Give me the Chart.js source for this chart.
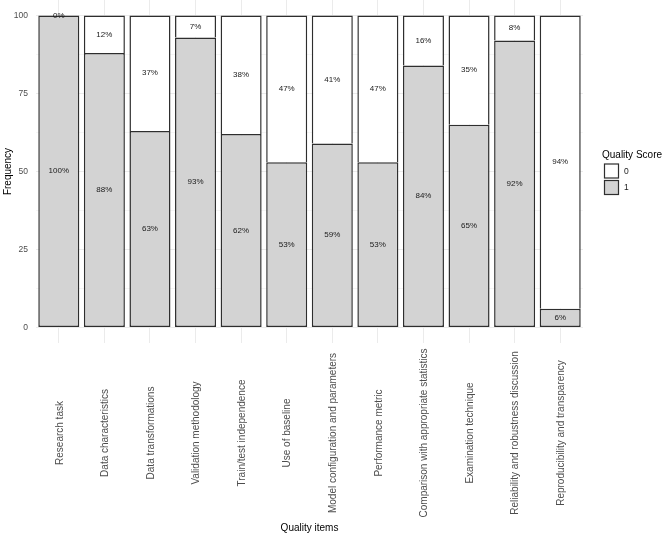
<!DOCTYPE html>
<html>
<head>
<meta charset="utf-8">
<script src="https://cdn.jsdelivr.net/npm/chart.js@4"></script>
<style>
  html, body { margin: 0; padding: 0; background: #ffffff; }
  #wrap { width: 666px; height: 535px; }
</style>
</head>
<body>
<div id="wrap"><canvas id="c" width="666" height="535"></canvas></div>
<script>
const categories = [
  "Research task",
  "Data characteristics",
  "Data transformations",
  "Validation methodology",
  "Train/test independence",
  "Use of baseline",
  "Model configuration and parameters",
  "Performance metric",
  "Comparison with appropriate statistics",
  "Examination technique",
  "Reliability and robustness discussion",
  "Reproducibility and transparency"
];
const score1 = [100, 88, 63, 93, 62, 53, 59, 53, 84, 65, 92, 6];
const score0 = [0, 12, 37, 7, 38, 47, 41, 47, 16, 35, 8, 94];
const yTickLabels = [0, 25, 50, 75, 100];
const seriesNames = ["1", "0"];
const seriesColors = ["#d3d3d3", "#ffffff"];

const FONT = "'Liberation Sans', Arial, Helvetica, sans-serif";
const EDGE = "#2e2e2e";
const BW = 1.5;

const dataLabelPlugin = {
  id: 'dataLabels',
  afterDatasetsDraw(chart) {
    const ctx = chart.ctx;
    ctx.save();
    ctx.font = "8px " + FONT;
    ctx.fillStyle = "#1a1a1a";
    ctx.textAlign = "center";
    ctx.textBaseline = "middle";
    chart.data.datasets.forEach((ds, di) => {
      const meta = chart.getDatasetMeta(di);
      meta.data.forEach((bar, i) => {
        const v = ds.data[i];
        const y = (bar.y + bar.base) / 2;
        ctx.fillText(v + "%", bar.x, y);
      });
    });
    ctx.restore();
  }
};

const xLabelPlugin = {
  id: 'xLabels',
  afterDraw(chart) {
    const ctx = chart.ctx;
    const xs = chart.scales.x;
    ctx.save();
    ctx.font = "10px " + FONT;
    ctx.fillStyle = "#4d4d4d";
    ctx.textAlign = "center";
    ctx.textBaseline = "middle";
    chart.data.labels.forEach((lab, i) => {
      const px = xs.getPixelForValue(i);
      ctx.save();
      ctx.translate(px + 1, 433);
      ctx.rotate(-Math.PI / 2);
      ctx.fillText(lab, 0, 0);
      ctx.restore();
    });
    ctx.restore();
  }
};

const legendPlugin = {
  id: 'customLegend',
  afterDraw(chart) {
    const ctx = chart.ctx;
    const area = chart.chartArea;
    const x0 = area.right + 20;
    const cy = (area.top + area.bottom) / 2;
    ctx.save();
    ctx.font = "10px " + FONT;
    ctx.fillStyle = "#000000";
    ctx.textAlign = "left";
    ctx.textBaseline = "alphabetic";
    ctx.fillText("Quality Score", x0 - 1, cy - 14);
    const items = chart.data.datasets.map((ds, i) => ({label: ds.label, color: ds.backgroundColor})).reverse();
    ctx.font = "8.5px " + FONT;
    ctx.textBaseline = "middle";
    items.forEach((it, k) => {
      const top = cy - 8 + k * 16.5;
      ctx.fillStyle = it.color;
      ctx.fillRect(x0 + 1, top, 15, 15);
      ctx.strokeStyle = EDGE;
      ctx.lineWidth = 1.2;
      ctx.strokeRect(x0 + 1.5, top + 0.5, 14, 14);
      ctx.fillStyle = "#1a1a1a";
      ctx.fillText(it.label, x0 + 21, top + 8);
    });
    ctx.restore();
  }
};

new Chart(document.getElementById('c'), {
  type: 'bar',
  data: {
    labels: categories,
    datasets: [
      { label: seriesNames[0], data: score1, backgroundColor: seriesColors[0], borderColor: EDGE,
        borderWidth: { top: BW, left: BW, right: BW, bottom: BW }, borderSkipped: false },
      { label: seriesNames[1], data: score0, backgroundColor: seriesColors[1], borderColor: EDGE,
        borderWidth: { top: BW, left: BW, right: BW, bottom: 0 }, borderSkipped: false }
    ]
  },
  options: {
    responsive: false,
    animation: false,
    devicePixelRatio: 1,
    layout: { padding: { left: 0, right: 83, top: 0, bottom: 0 } },
    datasets: { bar: { barPercentage: 0.9, categoryPercentage: 1.0 } },
    plugins: {
      legend: { display: false },
      tooltip: { enabled: false },
      title: { display: false }
    },
    scales: {
      x: {
        stacked: true,
        offset: true,
        border: { display: false },
        grid: { offset: false, color: "#ebebeb", lineWidth: 1, drawTicks: false },
        ticks: { display: false },
        title: {
          display: true, text: "Quality items",
          font: { family: FONT, size: 10 }, color: "#000000",
          padding: { top: 0, bottom: 1 }
        },
        afterFit(scale) { scale.height = 192; scale.paddingLeft = 0; scale.paddingRight = 0; }
      },
      y: {
        stacked: true,
        min: -5,
        max: 105,
        border: { display: false },
        grid: {
          drawTicks: false,
          color: (c) => (c.tick && c.tick.value % 25 === 0) ? "#ebebeb" : "#f5f5f5",
          lineWidth: 1
        },
        ticks: {
          stepSize: 12.5,
          padding: 8,
          color: "#4d4d4d",
          font: { family: FONT, size: 8.5 },
          callback: (v) => yTickLabels.includes(v) ? String(v) : ""
        },
        afterBuildTicks(scale) {
          scale.ticks = scale.ticks.filter(t => t.value >= 0 && t.value <= 100);
        },
        title: {
          display: true, text: "Frequency",
          font: { family: FONT, size: 10 }, color: "#000000",
          padding: { top: 2, bottom: 0 }
        },
        afterFit(scale) { scale.width = 36; scale.paddingTop = 0; scale.paddingBottom = 0; }
      }
    }
  },
  plugins: [dataLabelPlugin, xLabelPlugin, legendPlugin]
});
</script>
</body>
</html>
